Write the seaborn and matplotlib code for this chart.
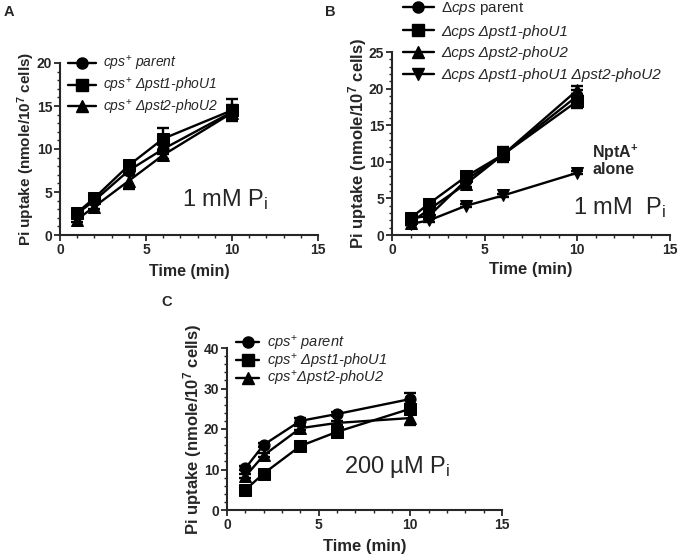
import matplotlib
matplotlib.use("Agg")
import matplotlib.pyplot as plt
from matplotlib.ticker import MultipleLocator
from matplotlib.lines import Line2D
import seaborn as sns
import pandas as pd

sns.set_style("ticks")
plt.rcParams['font.family'] = ['Liberation Sans', 'DejaVu Sans']
plt.rcParams['mathtext.fontset'] = 'custom'
plt.rcParams['mathtext.rm'] = 'Liberation Sans'
plt.rcParams['mathtext.it'] = 'Liberation Sans:italic'
plt.rcParams['mathtext.bf'] = 'Liberation Sans:bold'

time = [1, 2, 4, 6, 10]

# Panel A (1 mM Pi, cps+)
a_parent = [2.5, 4.0, 7.5, 10.0, 14.3]
a_pst1 = [2.6, 4.3, 8.1, 11.2, 14.5]
a_pst2 = [1.8, 3.3, 6.3, 9.3, 14.2]
a_parent_err = [0.3, 0.3, 0.5, 0.6, 0.8]
a_pst1_err = [0.3, 0.4, 0.5, 1.3, 1.3]
a_pst2_err = [0.3, 0.3, 0.9, 0.5, 0.6]

# Panel B (1 mM Pi, Δcps)
b_parent = [2.3, 2.6, 7.5, 11.0, 19.0]
b_pst1 = [2.3, 4.3, 8.0, 11.0, 18.3]
b_pst2 = [1.7, 3.5, 7.0, 11.0, 19.8]
b_both = [1.5, 2.0, 4.0, 5.4, 8.5]
b_parent_err = [0.3, 0.3, 0.4, 0.6, 0.8]
b_pst1_err = [0.3, 0.3, 0.4, 1.0, 1.0]
b_pst2_err = [0.3, 0.3, 0.4, 0.5, 0.5]
b_both_err = [0.2, 0.2, 0.2, 0.2, 0.2]

# Panel C (200 µM Pi, cps+)
c_parent = [10.3, 16.1, 22.0, 23.7, 27.4]
c_pst1 = [5.0, 9.0, 15.8, 19.3, 25.0]
c_pst2 = [8.3, 13.5, 20.2, 21.5, 22.7]
c_parent_err = [0.5, 0.5, 0.6, 0.6, 1.6]
c_pst1_err = [0.5, 0.6, 1.0, 1.0, 1.2]
c_pst2_err = [0.5, 0.5, 0.5, 0.5, 1.6]

labels_a = [r"$\mathit{cps}^{+}$ parent",
            r"$\mathit{cps}^{+}$ Δpst1-phoU1",
            r"$\mathit{cps}^{+}$ Δpst2-phoU2"]
labels_b = [r"Δ$\mathit{cps}$ $\mathrm{parent}$",
            "Δcps Δpst1-phoU1",
            "Δcps Δpst2-phoU2",
            "Δcps Δpst1-phoU1 Δpst2-phoU2"]
labels_c = [r"$\mathit{cps}^{+}$ parent",
            r"$\mathit{cps}^{+}$ Δpst1-phoU1",
            r"$\mathit{cps}^{+}$Δpst2-phoU2"]
italic_b = [False, True, True, True]

markers = ['o', 's', '^', 'v']

fig = plt.figure(figsize=(6.8, 5.6), dpi=100)
W, H = 680, 560
def pax(l, r, t, b):
    return fig.add_axes([l / W, 1 - b / H, (r - l) / W, (b - t) / H])

axA = pax(60, 318, 63, 235)
axB = pax(392, 670, 52, 235)
axC = pax(227, 502, 348, 510)

MS = 8

def draw(ax, series, errs, labels, ymax, ymajor, yminor, lab_fs, xpad):
    rows = []
    for lab, vals in zip(labels, series):
        for t, v in zip(time, vals):
            rows.append(dict(time=t, value=v, strain=lab))
    df = pd.DataFrame(rows)
    mk = {lab: markers[i] for i, lab in enumerate(labels)}
    sns.lineplot(data=df, x='time', y='value', hue='strain', style='strain',
                 palette=['black'] * len(labels), markers=mk, dashes=False,
                 markersize=MS, linewidth=1.7, markeredgecolor='black',
                 ax=ax, legend=False, clip_on=False, zorder=3)
    for vals, e in zip(series, errs):
        ax.errorbar(time, vals, yerr=e, fmt='none', ecolor='black',
                    elinewidth=1.7, capsize=4.5, capthick=1.7, zorder=4, clip_on=False)
    ax.set_xlim(0, 15)
    ax.set_ylim(0, ymax)
    ax.xaxis.set_major_locator(MultipleLocator(5))
    ax.xaxis.set_minor_locator(MultipleLocator(1))
    ax.yaxis.set_major_locator(MultipleLocator(ymajor))
    ax.yaxis.set_minor_locator(MultipleLocator(yminor))
    ax.tick_params(which='major', length=4, width=1.3, labelsize=10, pad=1.5)
    ax.tick_params(which='minor', length=2.5, width=1.0)
    for s in ['top', 'right']:
        ax.spines[s].set_visible(False)
    for s in ['left', 'bottom']:
        ax.spines[s].set_linewidth(1.5)
    for lbl in ax.get_xticklabels() + ax.get_yticklabels():
        lbl.set_fontweight('bold')
    ax.set_xlabel('Time (min)', fontsize=lab_fs, fontweight='bold', labelpad=xpad)
    ax.set_ylabel(r'Pi uptake (nmole/10$^{\mathbf{7}}$ cells)', fontsize=lab_fs,
                  fontweight='bold', labelpad=0)
    handles = [Line2D([], [], color='black', marker=markers[i], markersize=MS,
                      linewidth=1.7) for i in range(len(labels))]
    return handles

hA = draw(axA, [a_parent, a_pst1, a_pst2], [a_parent_err, a_pst1_err, a_pst2_err],
          labels_a, 20, 5, 1, 11, 5)
hB = draw(axB, [b_parent, b_pst1, b_pst2, b_both],
          [b_parent_err, b_pst1_err, b_pst2_err, b_both_err], labels_b, 25, 5, 1, 12, 4)
hC = draw(axC, [c_parent, c_pst1, c_pst2], [c_parent_err, c_pst1_err, c_pst2_err],
          labels_c, 40, 10, 2, 12, 5)
axA.xaxis.label.set_fontsize(11.5)

def leg(handles, labels, x, y, spacing, fs, italics, hl=2.0):
    lg = fig.legend(handles, labels, loc='upper left', bbox_to_anchor=(x / W, 1 - y / H),
                    frameon=False, fontsize=fs, handlelength=hl, handletextpad=0.5,
                    labelspacing=spacing, borderpad=0, borderaxespad=0)
    for t, it in zip(lg.get_texts(), italics):
        if it:
            t.set_fontstyle('italic')
    return lg

leg(hA, labels_a, 68, 54, 0.2, 10, [True] * 3)
leg(hB, labels_b, 403, 0, 0.5, 11, italic_b)
leg(hC, labels_c, 236, 334, -0.1, 10.5, [True] * 3, hl=1.6)

axA.text(7.1, 4.1, r'1 mM P$_\mathregular{i}$', fontsize=17, va='center', ha='left')
axB.text(9.75, 3.7, r'1 mM  P$_\mathregular{i}$', fontsize=17, va='center', ha='left')
axC.text(6.4, 10.6, r'200 µM P$_\mathregular{i}$', fontsize=17, va='center', ha='left')
axB.text(10.8, 10.3, r'NptA$^{\mathbf{+}}$' + '\nalone', fontsize=11.5, fontweight='bold',
         va='center', ha='left', linespacing=0.95)

fig.text(4 / W, 1 - 12 / H, 'A', fontsize=10.5, fontweight='bold', va='center')
fig.text(325 / W, 1 - 12 / H, 'B', fontsize=10.5, fontweight='bold', va='center')
fig.text(161 / W, 1 - 302 / H, 'C', fontsize=10.5, fontweight='bold', va='center')

fig.savefig('out.png', dpi=100)
